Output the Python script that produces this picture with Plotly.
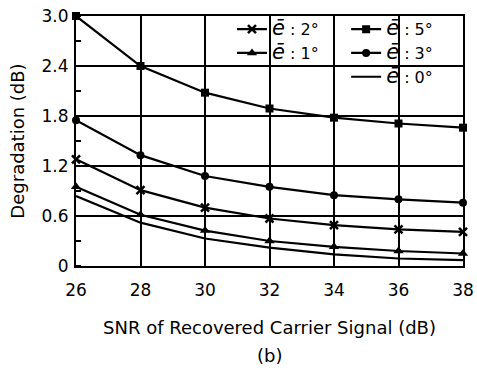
import plotly.graph_objects as go

snr = [26, 28, 30, 32, 34, 36, 38]
deg_5 = [3.00, 2.40, 2.08, 1.89, 1.78, 1.71, 1.66]
deg_3 = [1.75, 1.33, 1.08, 0.95, 0.85, 0.80, 0.76]
deg_2 = [1.28, 0.91, 0.70, 0.57, 0.49, 0.44, 0.41]
deg_1 = [0.95, 0.615, 0.425, 0.30, 0.23, 0.18, 0.15]
deg_0 = [0.84, 0.52, 0.33, 0.22, 0.14, 0.09, 0.07]

y_ticks = [0, 0.6, 1.2, 1.8, 2.4, 3.0]
y_ticktext = ["0", "0.6", "1.2", "1.8", "2.4", "3.0"]
x_ticks = [26, 28, 30, 32, 34, 36, 38]

def lab(d):
    return "<span style='font-size:21px'><i>ē</i></span> : " + d + "°"

fig = go.Figure()
common = dict(mode="lines+markers", line=dict(color="black", width=2.2), cliponaxis=False)
fig.add_trace(go.Scatter(x=snr, y=deg_2, name=lab("2"), legend="legend",
                         marker=dict(symbol="x-thin", size=8, color="black", line=dict(color="black", width=2.5)), **common))
fig.add_trace(go.Scatter(x=snr, y=deg_1, name=lab("1"), legend="legend",
                         marker=dict(symbol="triangle-up", size=9, color="black"), **common))
fig.add_trace(go.Scatter(x=snr, y=deg_5, name=lab("5"), legend="legend2",
                         marker=dict(symbol="square", size=8, color="black"), **common))
fig.add_trace(go.Scatter(x=snr, y=deg_3, name=lab("3"), legend="legend2",
                         marker=dict(symbol="circle", size=8, color="black"), **common))
fig.add_trace(go.Scatter(x=snr, y=deg_0, name=lab("0"), legend="legend2",
                         mode="lines", line=dict(color="black", width=2.2), cliponaxis=False))

fig.add_shape(type="rect", xref="paper", yref="paper", x0=0.339, x1=1.0, y0=0.724, y1=1.0,
              fillcolor="white", line=dict(width=0), layer="between")

FAM = "DejaVu Sans, Liberation Sans, sans-serif"
tick_font = dict(family=FAM, size=17, color="black")
title_font = dict(family=FAM, size=18, color="black")
leg_common = dict(bgcolor="rgba(0,0,0,0)", borderwidth=0,
                  font=dict(family=FAM, size=16, color="black"),
                  xanchor="left", yanchor="top", tracegroupgap=0, itemwidth=30)

fig.update_layout(
    width=477, height=370,
    margin=dict(l=76, r=14, t=16, b=104, autoexpand=False),
    paper_bgcolor="white", plot_bgcolor="white",
    font=tick_font,
    showlegend=True,
    legend=dict(x=0.403, y=1.015, **leg_common),
    legend2=dict(x=0.698, y=1.015, **leg_common),
    xaxis=dict(range=[26, 38], tickvals=x_ticks, showgrid=True, gridcolor="black", gridwidth=1.5,
               showline=True, linecolor="black", linewidth=2, mirror=True, ticks="",
               zeroline=False, tickfont=tick_font, ticklabelstandoff=8, automargin=False,
               title=dict(text="SNR of Recovered Carrier Signal (dB)", font=title_font, standoff=22)),
    yaxis=dict(range=[0, 3.0], tickvals=y_ticks, ticktext=y_ticktext, showgrid=True,
               gridcolor="black", gridwidth=1.5, showline=True, linecolor="black", linewidth=2,
               mirror=True, ticks="", zeroline=False, tickfont=tick_font, ticklabelstandoff=2,
               automargin=False,
               minor=dict(dtick=0.3, tick0=0, ticks="inside", ticklen=5, tickcolor="black", tickwidth=1.5, showgrid=False),
               title=dict(text="Degradation (dB)", font=title_font, standoff=12)),
    annotations=[dict(text="(b)", xref="paper", yref="paper", x=0.5, y=-0.36, xanchor="center",
                      yanchor="middle", showarrow=False, font=title_font)],
)

fig.write_html("out.html", config={"displayModeBar": False},
               post_script="document.body.style.margin='0';")
